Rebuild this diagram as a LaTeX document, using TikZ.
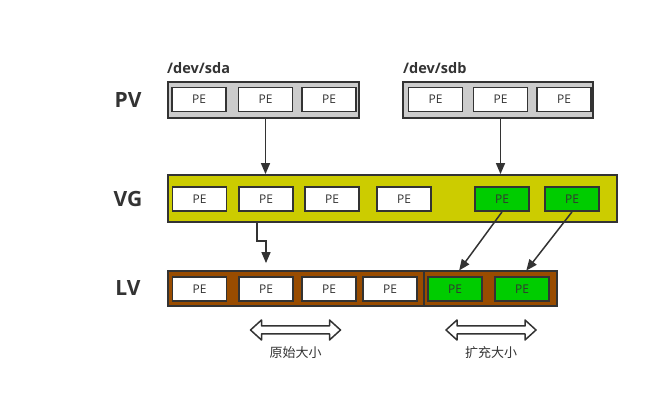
\documentclass[tikz,border=0pt]{standalone}
\usepackage{fontspec}
\setmainfont{Open Sans}
\newfontfamily\cjk{Noto Sans CJK SC}
\usepackage{tikz}
\usetikzlibrary{arrows.meta,positioning}

\definecolor{linec}{HTML}{333333}
\definecolor{pvgray}{HTML}{CCCCCC}
\definecolor{vgyellow}{HTML}{CCCC00}
\definecolor{lvbrown}{HTML}{994C00}
\definecolor{pegreen}{HTML}{00CC00}

\tikzset{
  box/.style={draw=linec, line width=1.8pt, inner sep=0pt},
  pe/.style={box, fill=white, minimum width=54pt, minimum height=24pt, font=\fontsize{12}{12}\selectfont, text=linec},
  penew/.style={pe, fill=pegreen},
  title/.style={font=\fontsize{21}{21}\selectfont\bfseries, text=linec},
  dev/.style={font=\fontsize{14.5}{14.5}\selectfont\bfseries, text=linec, anchor=west, inner sep=0pt},
  conn/.style={draw=linec, line width=1.5pt, -{Triangle[length=11pt,width=9pt]}},
  hollow/.style={draw=linec, line width=1.5pt, fill=white, line join=round},
  note/.style={font=\cjk\fontsize{13}{13}\selectfont, text=linec, inner sep=0pt}
}

\begin{document}
\begin{tikzpicture}[x=1pt,y=-1pt]
\useasboundingbox (0,0) rectangle (649,403);

% physical volumes
\node[title] (pvlab) at (128,100) {PV};
\node[box, fill=pvgray, minimum width=191pt, minimum height=36pt] (sda) at (263.5,100) {};
\node[box, fill=pvgray, minimum width=190pt, minimum height=36pt] (sdb) at (498,100) {};
\node[dev] (sdalab) at (167,68) {/dev/sda};
\node[dev] (sdblab) at (403,68) {/dev/sdb};
\node[pe] (sda1) at (199,99.5) {PE};
\node[pe] (sda2) at (265.5,99.5) {PE};
\node[pe] (sda3) at (329,99.5) {PE};
\node[pe] (sdb1) at (435.5,99.5) {PE};
\node[pe] (sdb2) at (500.5,99.5) {PE};
\node[pe] (sdb3) at (564,99.5) {PE};

% volume group
\node[title] (vglab) at (128,199) {VG};
\node[box, fill=vgyellow, minimum width=449pt, minimum height=47pt] (vg) at (392.5,198.5) {};
\node[pe] (vg1) at (199.5,199) {PE};
\node[pe] (vg2) at (266,199) {PE};
\node[pe] (vg3) at (332,199) {PE};
\node[pe] (vg4) at (404,199) {PE};
\node[penew] (vg5) at (502,199) {PE};
\node[penew] (vg6) at (572,199) {PE};

% logical volume
\node[title] (lvlab) at (128,288) {LV};
\node[box, fill=lvbrown, minimum width=256pt, minimum height=35pt] (lvold) at (296,288.5) {};
\node[box, fill=lvbrown, minimum width=133pt, minimum height=35pt] (lvnew) at (490.5,288.5) {};
\node[pe] (lv1) at (199.5,289) {PE};
\node[pe] (lv2) at (266,289) {PE};
\node[pe] (lv3) at (329,289) {PE};
\node[pe] (lv4) at (390,289) {PE};
\node[penew] (lv5) at (455,289) {PE};
\node[penew] (lv6) at (522,289) {PE};

% extents
\draw[conn] (sda2 |- sda.south) -- (sda2 |- vg.north);
\draw[conn] (sdb2 |- sdb.south) -- (sdb2 |- vg.north);
\coordinate (bend) at (257,241);
\draw[conn, shorten >=7pt] (bend |- vg.south) -- (bend) -| (lv2.north |- lvold.north);
\draw[conn, shorten >=7pt] (vg5.south) -- (lv5.north);
\draw[conn, shorten >=7pt] (vg6.south) -- (lv6.north);

% sizes
\coordinate (oldsize) at (295.5,330);
\coordinate (newsize) at (491,330);
\foreach \c in {oldsize,newsize}
  \draw[hollow, shift={(\c)}] (-45,0) -- (-34,-10) -- (-34,-4) -- (34,-4) -- (34,-10)
    -- (45,0) -- (34,10) -- (34,4) -- (-34,4) -- (-34,10) -- cycle;
\node[note, below=16pt of oldsize] (oldtxt) {原始大小};
\node[note, below=16pt of newsize] (newtxt) {扩充大小};
\end{tikzpicture}
\end{document}
